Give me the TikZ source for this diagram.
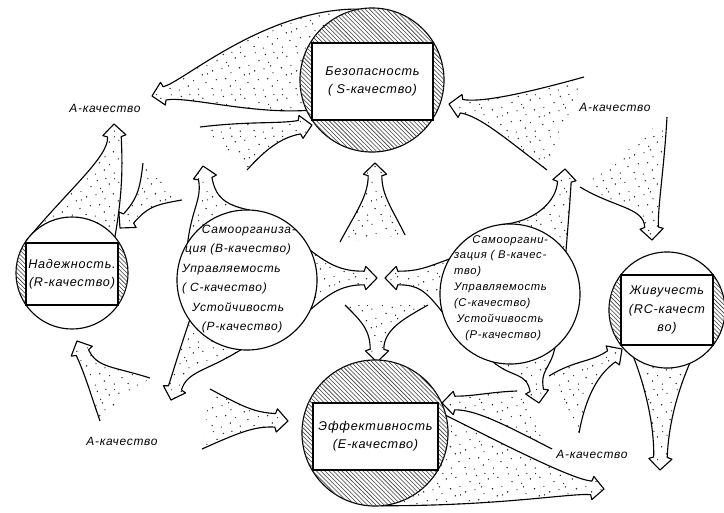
\documentclass[tikz,border=0pt]{standalone}
\usepackage{fontspec}
\setmainfont{Liberation Sans}[LetterSpace=6]
\usetikzlibrary{calc, patterns}

\pgfdeclarelayer{flows}
\pgfsetlayers{flows,main}

% sparse dots for the flow funnels
\pgfdeclarepatternformonly{stipple}{\pgfqpoint{0pt}{0pt}}{\pgfqpoint{30pt}{30pt}}{\pgfqpoint{30pt}{30pt}}{%
  \foreach \px/\py/\pr in {1.5/2.5/.55, 8.2/1.4/.45, 14.7/4.3/.6, 21.9/2.1/.5, 27.4/6.8/.55,
    4.6/8.9/.5, 11.3/9.6/.6, 18.5/8.2/.45, 24.8/12.4/.55, 1.9/15.3/.6, 8.7/16.8/.45,
    15.2/13.9/.5, 21.3/17.5/.6, 28.1/19.2/.45, 5.1/22.7/.55, 12.0/21.4/.5, 18.3/24.6/.6,
    25.2/25.8/.5, 2.4/28.3/.45, 9.6/27.1/.55, 15.8/28.6/.5, 22.1/28.4/.45, 28.5/13.1/.5, 13.4/18.9/.55}
  {\pgfpathcircle{\pgfpoint{\px pt}{\py pt}}{\pr pt}\pgfusepath{fill}}}

\tikzstyle{quality} = [circle, draw=black, fill=white, line width=0.8pt, inner sep=0pt, outer sep=0pt]
\tikzstyle{qbox} = [rectangle, draw=black, fill=white, line width=0.8pt, inner sep=0pt, align=center, font=\itshape\fontsize{9}{13}\selectfont]
\tikzstyle{qtext} = [inner sep=0pt, align=left, font=\itshape\fontsize{8.5}{13.8}\selectfont]
\tikzstyle{qtextb} = [inner sep=0pt, align=left, font=\itshape\fontsize{8}{11.3}\selectfont]
\tikzstyle{alabel} = [inner sep=0pt, font=\itshape\fontsize{8.5}{10}\selectfont]
\tikzstyle{hatch} = [pattern=north west lines, pattern color=black!75]
\tikzstyle{flowfill} = [pattern=stipple, pattern color=black!85]
\tikzstyle{flowline} = [line width=0.8pt, line join=round]

% funnel arrow: left base, its control, right base, its control, tip, direction
\newcommand{\qflow}[6]{%
  \coordinate (tp) at (#5);
  \coordinate (nl) at ($(tp)+(#6+180:0.32cm)+(#6+90:0.17cm)$);
  \coordinate (bl) at ($(tp)+(#6+180:0.28cm)+(#6+90:0.29cm)$);
  \coordinate (br) at ($(tp)+(#6+180:0.28cm)+(#6-90:0.29cm)$);
  \coordinate (nr) at ($(tp)+(#6+180:0.32cm)+(#6-90:0.17cm)$);
  \coordinate (nlb) at ($(nl)+(#6+180:0.5cm)$);
  \coordinate (nrb) at ($(nr)+(#6+180:0.5cm)$);
  \begin{pgfonlayer}{flows}
    \fill [flowfill] (#1) .. controls (#2) and (nlb) .. (nl) -- (bl) -- (tp) -- (br) -- (nr) .. controls (nrb) and (#4) .. (#3) -- cycle;
    \draw [flowline] (#1) .. controls (#2) and (nlb) .. (nl) -- (bl) -- (tp) -- (br) -- (nr) .. controls (nrb) and (#4) .. (#3);
  \end{pgfonlayer}
}

\begin{document}
\begin{tikzpicture}[x=0.025cm, y=-0.025cm]
    \useasboundingbox (0,0) rectangle (724,513);

    % quality circles
    \node (safety) [quality, minimum size=3.6cm] at (372,80) {};
    \node (reliab) [quality, minimum size=2.8cm] at (72,273) {};
    \node (selforg) [quality, minimum size=3.5cm] at (247,280) {};
    \node (selforgb) [quality, minimum size=3.5cm] at (510,294) {};
    \node (effect) [quality, minimum size=3.65cm] at (375,433) {};
    \node (surv) [quality, minimum size=2.9cm] at (667,310) {};

    % hatching
    \fill [hatch] (safety.center) circle (1.8cm);
    \fill [hatch] (effect.center) circle (1.825cm);
    \begin{scope}
        \clip (reliab.center) circle (1.4cm);
        \fill [hatch] (0,200) rectangle (26,350);
        \fill [hatch] (118,200) rectangle (140,350);
    \end{scope}
    \begin{scope}
        \clip (surv.center) circle (1.45cm);
        \fill [hatch] (590,240) rectangle (621,380);
        \fill [hatch] (713,240) rectangle (740,380);
    \end{scope}

    \node (safetybox) [qbox, minimum width=3.025cm, minimum height=1.925cm] at (372.5,81.5) {Безопасность\\( S-качество)};
    \node (reliabbox) [qbox, minimum width=2.3cm, minimum height=1.55cm] at (72,274) {Надежность.\\(R-качество)};
    \node (effectbox) [qbox, minimum width=3.125cm, minimum height=1.675cm] at (375.5,436.5) {Эффективность\\(E-качество)};
    \node (survbox) [qbox, minimum width=2.3cm, minimum height=1.75cm] at (667,310) {Живучесть\\(RC-качест\\во)};

    \node (selforgtxt) [qtext] at (239,279) {\hspace*{14pt}Самоорганиза-\\\hspace*{2pt}ция (B-качество)\\Управляемость\\( C-качество)\\\hspace*{7pt}Устойчивость\\\hspace*{14pt}(P-качество)};
    \node (selforgbtxt) [qtextb] at (501,288) {\hspace*{13pt}Самооргани-\\зация ( B-качес-\\тво)\\Управляемость\\(C-качество)\\\hspace*{2pt}Устойчивость\\\hspace*{8pt}(P-качество)};

    \node (aleft) [alabel] at (105,108) {А-качество};
    \node (aright) [alabel] at (615,107) {А-качество};
    \node (alow) [alabel] at (122,441) {А-качество};
    \node (alowr) [alabel] at (592,454) {А-качество};

    % flows
    \qflow{safety.205}{250,114}{safety.100}{265,8}{152,96}{192}
    \qflow{reliab.145}{70,188}{reliab.40}{124,185}{114,124}{92}
    \qflow{182,200}{152,205}{143,163}{140,190}{120,228}{228}
    \qflow{selforg.148}{192,208}{selforg.88}{225,205}{203,166}{100}
    \qflow{200,127}{250,121}{247,170}{265,150}{312,125}{10}
    \qflow{selforg.25}{332,267}{selforg.-25}{332,291}{377,278}{0}
    \qflow{selforgb.195}{425,290}{selforgb.150}{425,268}{385,278}{180}
    \qflow{340,242}{356,212}{405,235}{393,210}{375,163}{90}
    \qflow{428,305}{405,318}{345,305}{360,320}{377,362}{270}
    \qflow{selforg.265}{205,372}{selforg.215}{178,355}{171,400}{252}
    \qflow{100,421}{90,392}{150,378}{112,366}{77,341}{115}
    \qflow{210,389}{245,408}{202,449}{240,432}{288,421}{-3}
    \qflow{selforgb.97}{535,222}{selforgb.37}{568,225}{565,169}{87}
    \qflow{547,170}{505,138}{584,77}{530,92}{449,104}{170}
    \qflow{667,117}{664,170}{580,187}{615,208}{652,240}{272}
    \qflow{selforgb.310}{550,370}{selforgb.256}{512,378}{539,403}{280}
    \qflow{549,376}{575,360}{579,433}{586,395}{622,349}{35}
    \qflow{552,449}{500,422}{517,391}{490,392}{442,403}{180}
    \qflow{effect.14}{505,445}{effect.275}{500,506}{604,489}{-5}
    \qflow{surv.293}{672,405}{surv.235}{650,400}{660,470}{268}

\end{tikzpicture}
\end{document}
